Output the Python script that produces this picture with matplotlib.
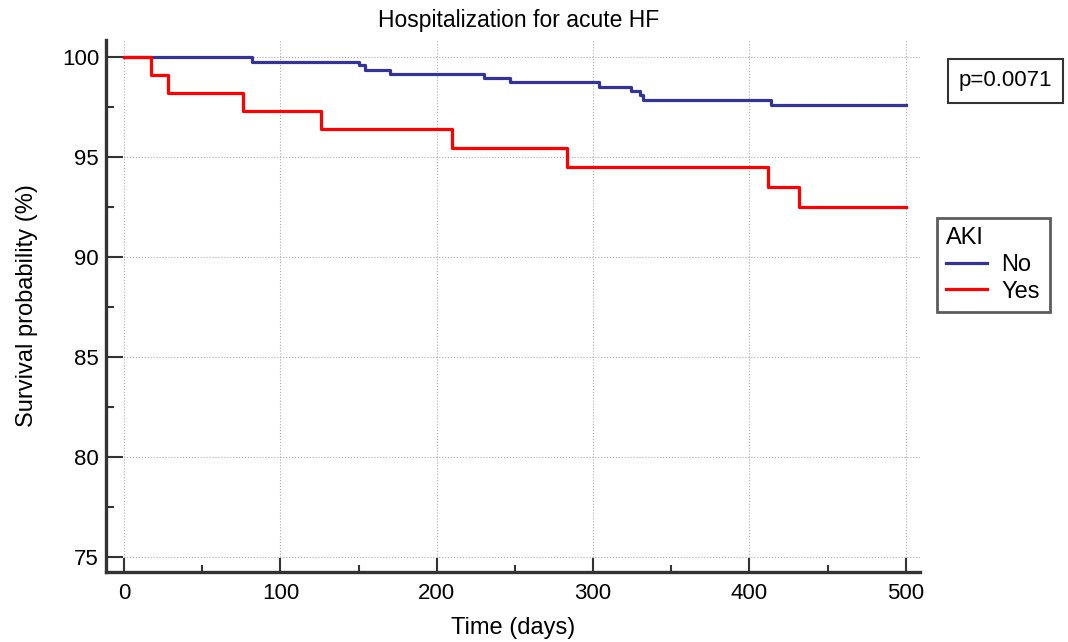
import matplotlib
matplotlib.use("Agg")
import matplotlib.pyplot as plt
from matplotlib.ticker import MultipleLocator

plt.rcParams['font.family'] = ['Liberation Sans', 'DejaVu Sans']

# Kaplan-Meier step data
no_time = [0, 82, 150, 154, 170, 230, 247, 304, 324, 330, 332, 414, 500]
no_surv = [100, 99.75, 99.6, 99.35, 99.15, 98.93, 98.75, 98.5, 98.27, 98.1, 97.85, 97.6, 97.6]
yes_time = [0, 17, 28, 76, 126, 210, 283, 412, 432, 500]
yes_surv = [100, 99.1, 98.2, 97.3, 96.4, 95.45, 94.5, 93.5, 92.5, 92.5]

fig = plt.figure(figsize=(10.68, 6.42), dpi=100)
ax = fig.add_axes([0.0993, 0.109, 0.762, 0.829])

ax.step(no_time, no_surv, where='post', color='#333399', lw=2.3, label='No')
ax.step(yes_time, yes_surv, where='post', color='#ff0000', lw=2.3, label='Yes')

ax.set_xlim(-11.5, 509)
ax.set_ylim(74.25, 100.85)
ax.xaxis.set_major_locator(MultipleLocator(100))
ax.xaxis.set_minor_locator(MultipleLocator(50))
ax.yaxis.set_major_locator(MultipleLocator(5))
ax.yaxis.set_minor_locator(MultipleLocator(2.5))
ax.grid(True, which='major', color='#aaaaaa', linestyle=':', linewidth=0.8)

for s in ['top', 'right']:
    ax.spines[s].set_visible(False)
for s in ['left', 'bottom']:
    ax.spines[s].set_color('#333333')
    ax.spines[s].set_linewidth(2.4)

ax.tick_params(axis='y', which='major', direction='in', length=12, width=1.5, color='#333333', labelsize=16, pad=5)
ax.tick_params(axis='y', which='minor', direction='in', length=6, width=1.5, color='#333333')
ax.tick_params(axis='x', which='major', direction='in', length=10, width=1.5, color='#333333', labelsize=16, pad=8)
ax.tick_params(axis='x', which='minor', direction='in', length=5, width=1.5, color='#333333')

ax.set_xlabel('Time (days)', fontsize=17, labelpad=9)
ax.set_ylabel('Survival probability (%)', fontsize=17, labelpad=17)
fig.text(0.486, 0.968, 'Hospitalization for acute HF', ha='center', va='center', fontsize=16.5)

fig.text(0.9415, 0.874, 'p=0.0071', ha='center', va='center', fontsize=16,
         bbox=dict(boxstyle='square,pad=0.5', facecolor='white', edgecolor='#333333', linewidth=1.5))

leg = ax.legend(loc='upper left', bbox_to_anchor=(0.877, 0.661), bbox_transform=fig.transFigure,
                title='AKI', fontsize=17, title_fontsize=17, alignment='left',
                frameon=True, fancybox=False, edgecolor='#333333', handlelength=1.75,
                borderpad=0.4, labelspacing=0.2, handletextpad=0.6, borderaxespad=0)
leg.get_frame().set_linewidth(2)

fig.savefig('out.png', dpi=100)
